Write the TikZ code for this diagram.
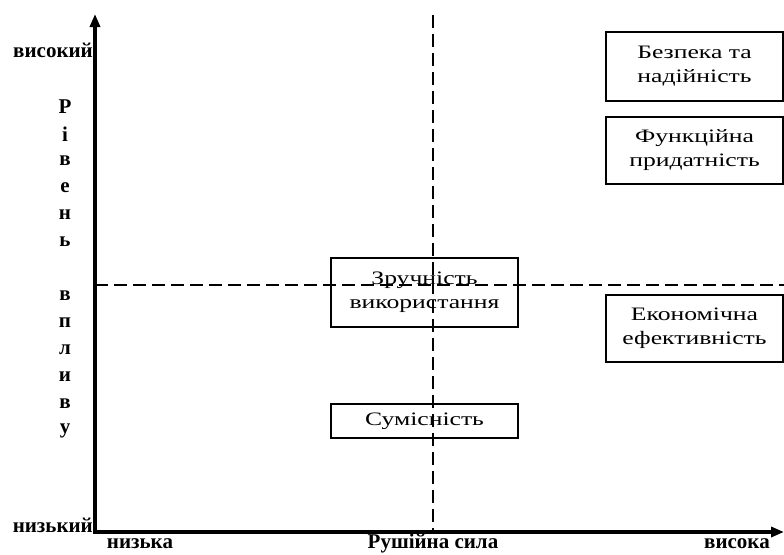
\documentclass[tikz,border=0pt]{standalone}
\usepackage{fontspec}
\setmainfont{Liberation Serif}
\newfontfamily\boxfont[FakeStretch=1.35]{Liberation Serif}
\usepackage{tikz}
\usetikzlibrary{positioning,calc,arrows.meta}

\tikzset{
    axis/.style={line width=3.5pt,-{Triangle[length=13pt,width=10pt]}},
    divider/.style={line width=2.6pt,dash pattern=on 13pt off 6pt},
    factor/.style={draw,line width=1.2pt,align=center,inner sep=0pt,
        font=\boxfont\fontsize{19}{24}\selectfont},
    axislabel/.style={font=\bfseries\fontsize{21}{24}\selectfont,inner sep=0pt}
}

\begin{document}
\begin{tikzpicture}[x=1pt,y=-1pt]
    \useasboundingbox (0,0) rectangle (784,554);

    % Axes
    \coordinate (origin) at (95,532);
    \coordinate (ytop) at (95,14);
    \coordinate (xend) at (784,532);
    \draw[axis] ($(origin)+(0,1.75)$) -- (ytop);
    \draw[axis] ($(origin)-(1.75,0)$) -- (xend);

    % Dividers
    \coordinate (hleft) at (95,285); \coordinate (hright) at (784,285);
    \coordinate (vtop) at (433,15); \coordinate (vbot) at (433,532);
    \draw[divider] (hleft) -- (hright);
    \draw[divider] (vtop) -- (vbot);

    % Factors
    \node[factor,minimum width=187pt,minimum height=69pt] (zruch) at (424.5,292.5) {Зручність\\використання};
    \node[factor,minimum width=187pt,minimum height=34pt] (sumis) at (424.5,421) {Сумісність};
    \node[factor,minimum width=177pt,minimum height=69pt] (bezpeka) at (694.5,66.5) {Безпека та\\надійність};
    \node[factor,minimum width=177pt,minimum height=67pt] (funk) at (694.5,150.5) {Функційна\\придатність};
    \node[factor,minimum width=177pt,minimum height=67pt] (ekon) at (694.5,328.5) {Економічна\\ефективність};

    % Axis labels
    \node[axislabel,anchor=east] (high) at (93,50) {високий};
    \node[axislabel,anchor=east] (low) at (93,525) {низький};
    \node[axislabel,anchor=base] (xlow) at (140,548) {низька};
    \node[axislabel,anchor=base] (xname) at (433,548) {Рушійна сила};
    \node[axislabel,anchor=base] (xhigh) at (737,548) {висока};
    \foreach \ch/\i in {Р/0,і/1,в/2,е/3,н/4,ь/5,в/7,п/8,л/9,и/10,в/11,у/12}
        \node[axislabel] (lvl\i) at (65,{107+27*\i}) {\ch};
\end{tikzpicture}
\end{document}
